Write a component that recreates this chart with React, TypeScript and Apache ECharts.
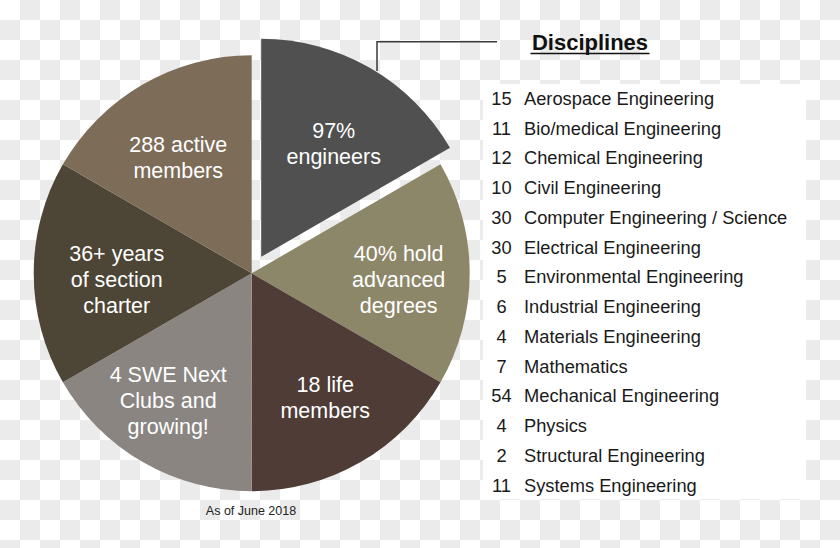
import React, { useEffect, useRef } from 'react';
import * as echarts from 'echarts';

// ---- data ----
const sliceLabels = [
  '97%\nengineers',
  '40% hold\nadvanced\ndegrees',
  '18 life\nmembers',
  '4 SWE Next\nClubs and\ngrowing!',
  '36+ years\nof section\ncharter',
  '288 active\nmembers',
];
const sliceValues = [1, 1, 1, 1, 1, 1];
const sliceColors = ['#505050', '#8d8769', '#4f3c36', '#8a8581', '#4d4535', '#7d6c57'];
const labelOffsets = [[1, 11], [4, 7], [2, 1], [-12, 4], [8, 7], [-2, 9]];

const disciplineCounts = [15, 11, 12, 10, 30, 30, 5, 6, 4, 7, 54, 4, 2, 11];
const disciplineNames = [
  'Aerospace Engineering',
  'Bio/medical Engineering',
  'Chemical Engineering',
  'Civil Engineering',
  'Computer Engineering / Science',
  'Electrical Engineering',
  'Environmental Engineering',
  'Industrial Engineering',
  'Materials Engineering',
  'Mathematics',
  'Mechanical Engineering',
  'Physics',
  'Structural Engineering',
  'Systems Engineering',
];
const titleText = 'Disciplines';
const footnote = 'As of June 2018';

const FONT = '"Liberation Sans", Arial, Helvetica, sans-serif';

export default function App() {
  const ref = useRef<HTMLDivElement>(null);
  useEffect(() => {
    if (!ref.current) return;
    const chart = echarts.init(ref.current, undefined, { renderer: 'svg' });
    const cx = 251.7;
    const cy = 273.3;
    const R = 218;

    const listGraphics: any[] = [];
    const rowY0 = 98.3;
    const rowStep = 29.75;
    disciplineCounts.forEach((c, i) => {
      const y = rowY0 + rowStep * i;
      listGraphics.push({
        type: 'text',
        x: 501.5,
        y,
        style: {
          text: String(c),
          fill: '#1a1a1a',
          fontSize: 18.3,
          fontFamily: FONT,
          textAlign: 'center',
          textVerticalAlign: 'middle',
          align: 'center',
          verticalAlign: 'middle',
        },
      });
      listGraphics.push({
        type: 'text',
        x: 524,
        y,
        style: {
          text: disciplineNames[i],
          fill: '#1a1a1a',
          fontSize: 18.3,
          fontFamily: FONT,
          textAlign: 'left',
          textVerticalAlign: 'middle',
          align: 'left',
          verticalAlign: 'middle',
        },
      });
    });

    const option: any = {
      animation: false,
      backgroundColor: 'transparent',
      graphic: [
        {
          type: 'rect',
          z: -10,
          shape: { x: 483, y: 84, width: 323, height: 415 },
          style: { fill: '#ffffff' },
        },
        {
          type: 'polyline',
          shape: { points: [[377, 71], [377, 41.7], [497, 41.7]] },
          style: { stroke: '#3a3a3a', lineWidth: 1.5, fill: null },
        },
        {
          type: 'text',
          x: 590,
          y: 42,
          style: {
            text: titleText,
            fill: '#111',
            fontSize: 22,
            fontWeight: 'bold',
            fontFamily: FONT,
            textAlign: 'center',
            textVerticalAlign: 'middle',
            align: 'center',
            verticalAlign: 'middle',
          },
        },
        {
          type: 'line',
          shape: { x1: 530.5, y1: 53.5, x2: 649.5, y2: 53.5 },
          style: { stroke: '#111', lineWidth: 1.5 },
        },
        {
          type: 'text',
          x: 251,
          y: 511,
          style: {
            text: footnote,
            fill: '#222',
            fontSize: 12.5,
            fontFamily: FONT,
            textAlign: 'center',
            textVerticalAlign: 'middle',
            align: 'center',
            verticalAlign: 'middle',
          },
        },
        ...listGraphics,
      ],
      series: [
        {
          type: 'pie',
          center: [cx, cy],
          radius: [0, R],
          startAngle: 90,
          clockwise: true,
          selectedMode: 'single',
          selectedOffset: 19,
          silent: true,
          label: { show: false },
          labelLine: { show: false },
          itemStyle: { borderWidth: 0 },
          emphasis: { disabled: true },
          data: sliceLabels.map((n, i) => ({
            name: n,
            value: sliceValues[i],
            selected: i === 0,
            itemStyle: { color: sliceColors[i] },
            select: { itemStyle: { color: sliceColors[i] } },
          })),
        },
        {
          type: 'pie',
          center: [cx, cy],
          radius: [62, R],
          startAngle: 90,
          clockwise: true,
          selectedMode: 'single',
          selectedOffset: 19,
          silent: true,
          itemStyle: { color: 'rgba(0,0,0,0)', borderWidth: 0 },
          emphasis: { disabled: true },
          label: {
            show: true,
            position: 'inside',
            formatter: '{b}',
            color: '#ffffff',
            fontSize: 21.5,
            lineHeight: 26,
            fontFamily: FONT,
            textBorderWidth: 0,
            align: 'center',
          },
          labelLine: { show: false },
          data: sliceLabels.map((n, i) => ({
            name: n,
            value: sliceValues[i],
            selected: i === 0,
            label: { offset: labelOffsets[i] },
            select: {
              itemStyle: { color: 'rgba(0,0,0,0)' },
              label: { offset: labelOffsets[i], color: '#ffffff' },
            },
          })),
        },
      ],
    };
    chart.setOption(option);
    return () => chart.dispose();
  }, []);

  return (
    <div
      style={{
        position: 'absolute',
        left: 0,
        top: 0,
        width: 840,
        height: 548,
        background: 'repeating-conic-gradient(#ebebeb 0 25%, #ffffff 0 50%) 0 0 / 40px 40px',
      }}
    >
      <div ref={ref} style={{ width: 840, height: 548 }} />
    </div>
  );
}
